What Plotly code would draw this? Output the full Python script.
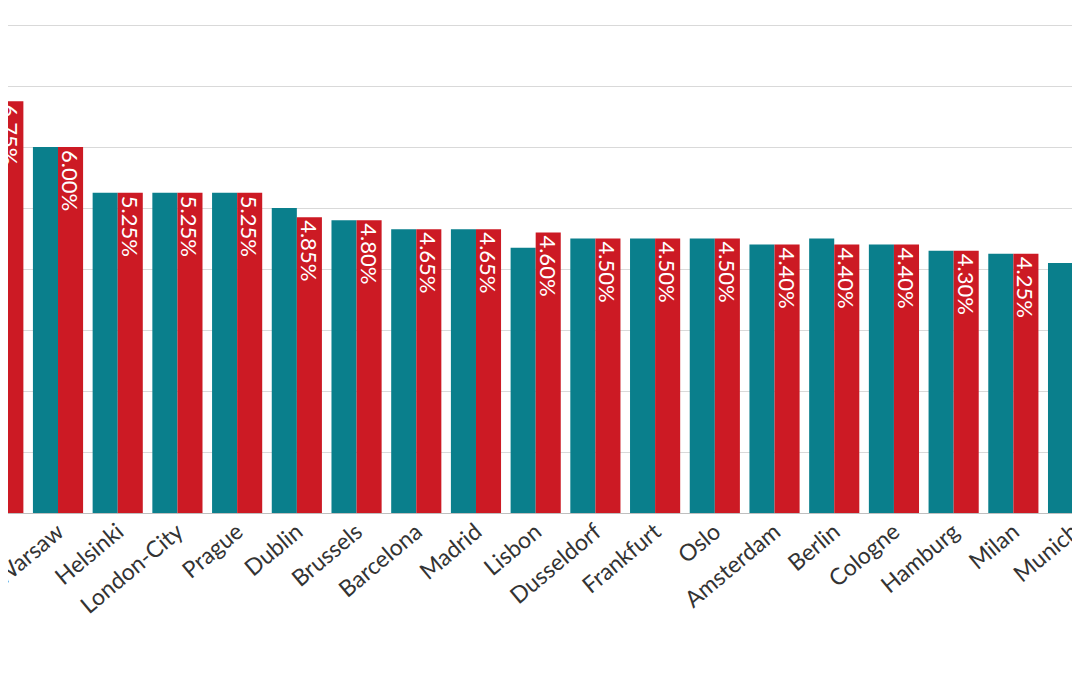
import plotly.graph_objects as go

cities = ["Lyon", "Warsaw", "Helsinki", "London-City", "Prague", "Dublin", "Brussels", "Barcelona",
          "Madrid", "Lisbon", "Dusseldorf", "Frankfurt", "Oslo", "Amsterdam", "Berlin",
          "Cologne", "Hamburg", "Milan", "Munich", "Copenhagen"]
prev_yield = [7.00, 6.00, 5.25, 5.25, 5.25, 5.00, 4.80, 4.65, 4.65, 4.35, 4.50, 4.50, 4.50,
              4.40, 4.50, 4.40, 4.30, 4.25, 4.10, 4.00]
curr_yield = [6.75, 6.00, 5.25, 5.25, 5.25, 4.85, 4.80, 4.65, 4.65, 4.60, 4.50, 4.50, 4.50,
              4.40, 4.40, 4.40, 4.30, 4.25, 4.10, 4.00]

fig = go.Figure()
fig.add_bar(x=cities, y=prev_yield, marker=dict(color="#0a7f8c", line_width=0), name="Previous")
fig.add_bar(x=cities, y=curr_yield, marker=dict(color="#cc1a24", line_width=0), name="Current",
            text=[f"{v:.2f}%" for v in curr_yield], textposition="inside",
            insidetextanchor="end", textangle=90, constraintext="none",
            textfont=dict(color="white", size=22, family="Lato"))

fig.update_layout(
    width=1080, height=675, barmode="group", bargap=0.16, bargroupgap=0,
    plot_bgcolor="white", paper_bgcolor="white", showlegend=False,
    margin=dict(l=0, r=0, t=0, b=170, pad=0),
    font=dict(family="Lato", color="#333333"),
)
fig.update_xaxes(range=[0.1625, 18.25], tickangle=-40, tickfont=dict(size=23, color="#333333"),
                 showline=False, ticks="", automargin=False)
fig.update_yaxes(range=[0, 8.279], dtick=1, showticklabels=False, gridcolor="#d9d9d9",
                 zeroline=True, zerolinecolor="#bfbfbf", zerolinewidth=1, automargin=False)
fig.write_html("out.html")
